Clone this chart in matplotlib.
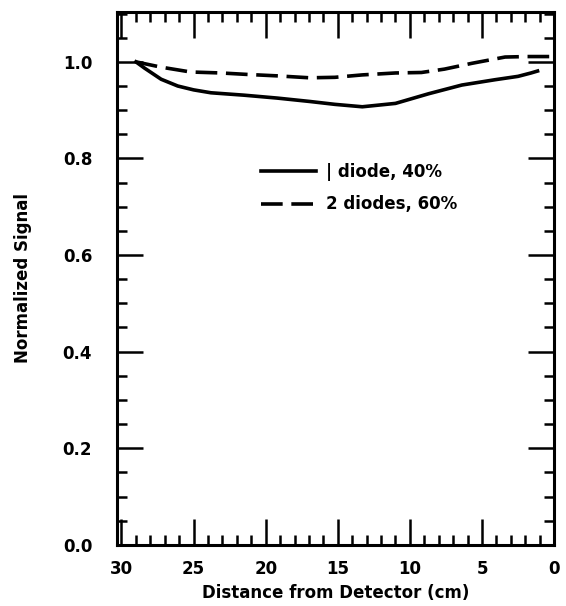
import matplotlib.pyplot as plt
from matplotlib.ticker import MultipleLocator

plt.rcParams['font.family'] = ['DejaVu Sans']
plt.rcParams['font.weight'] = 'bold'

# 1 diode, 40% (solid)
x1 = [29.0, 28.4, 27.25, 26.1, 25.0, 23.8, 21.5, 19.2, 16.95, 15.2, 13.3, 11.0, 8.7, 6.4, 4.1, 2.5, 1.6, 1.15]
y1 = [1.0, 0.987, 0.964, 0.950, 0.942, 0.936, 0.931, 0.925, 0.918, 0.912, 0.907, 0.914, 0.934, 0.952, 0.963, 0.970, 0.977, 0.981]

# 2 diodes, 60% (dashed)
x2 = [29.0, 27.25, 25.2, 23.1, 21.3, 19.2, 16.95, 15.2, 13.3, 11.0, 9.2, 7.6, 5.7, 3.4, 1.85, 0.3]
y2 = [1.0, 0.989, 0.979, 0.977, 0.974, 0.971, 0.967, 0.968, 0.973, 0.977, 0.978, 0.985, 0.997, 1.010, 1.011, 1.011]

fig = plt.figure(figsize=(5.66, 6.06), dpi=100)
ax = fig.add_axes([0.207, 0.101, 0.772, 0.879])

ax.plot(x1, y1, color='black', lw=2.6, label='| diode, 40%')
ax.plot(x2, y2, color='black', lw=2.6, ls=(0, (6, 2.4)), label='2 diodes, 60%')

ax.set_xlim(30.3, 0)
ax.set_ylim(0, 1.103)

ax.xaxis.set_major_locator(MultipleLocator(5))
ax.xaxis.set_minor_locator(MultipleLocator(1))
ax.yaxis.set_minor_locator(MultipleLocator(0.05))
ax.set_yticks([0, 0.2, 0.4, 0.6, 0.8, 1.0])
ax.set_yticklabels(['0.0', '0.2', '0.4', '0.6', '0.8', '1.0'])

ax.tick_params(which='both', direction='in', top=True, right=True, width=1.8, labelsize=12)
ax.tick_params(which='major', length=19)
ax.tick_params(which='minor', length=7)
ax.tick_params(axis='y', pad=18)
ax.tick_params(axis='x', pad=11)
for s in ax.spines.values():
    s.set_linewidth(2.2)

ax.set_xlabel('Distance from Detector (cm)', fontsize=12, fontweight='bold', labelpad=4)
ax.set_ylabel('Normalized Signal', fontsize=12, fontweight='bold', labelpad=22)

ax.legend(loc='upper left', bbox_to_anchor=(0.31, 0.732), frameon=False, fontsize=12,
          handlelength=3.3, handletextpad=0.6, labelspacing=0.85, borderpad=0)

fig.savefig('out.png', dpi=100)
